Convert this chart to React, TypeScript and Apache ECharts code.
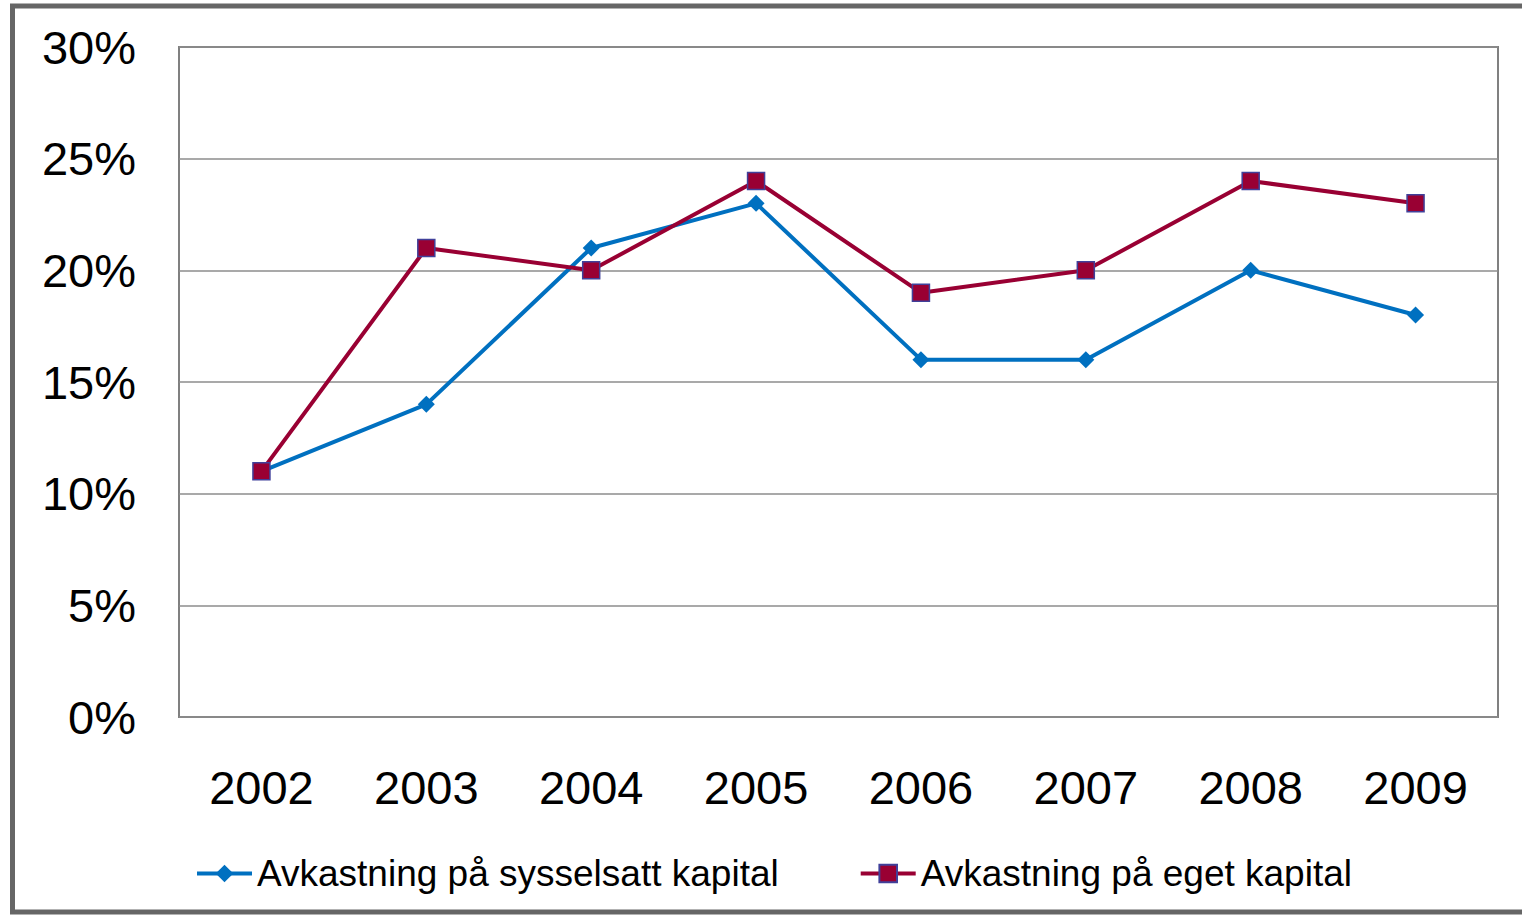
import React, { useEffect, useRef } from "react";
import * as echarts from "echarts";

const years = ["2002", "2003", "2004", "2005", "2006", "2007", "2008", "2009"];
const sysselsatt = [11, 14, 21, 23, 16, 16, 20, 18];
const eget = [11, 21, 20, 24, 19, 20, 24, 23];
const seriesNames = ["Avkastning på sysselsatt kapital", "Avkastning på eget kapital"];

const FONT = "'Liberation Sans', Arial, sans-serif";

export default function App() {
  const ref = useRef<HTMLDivElement>(null);
  useEffect(() => {
    const chart = echarts.init(ref.current!, null, { renderer: "svg" });
    chart.setOption({
      animation: false,
      backgroundColor: "#ffffff",
      graphic: [
        {
          type: "rect",
          shape: { x: 12.5, y: 6, width: 1530, height: 906 },
          style: { fill: "none", stroke: "#666666", lineWidth: 5 },
          silent: true,
        },
      ],
      grid: {
        left: 179,
        right: 24,
        top: 47,
        bottom: 198,
        show: true,
        borderColor: "#808080",
        borderWidth: 2,
        backgroundColor: "transparent",
      },
      legend: {
        left: 190,
        top: 850,
        itemWidth: 55,
        itemHeight: 22,
        itemGap: 80,
        lineStyle: { width: 4 },
        textStyle: { fontSize: 37, fontFamily: FONT, color: "#000" },
        data: seriesNames,
      },
      xAxis: {
        type: "category",
        data: years,
        boundaryGap: true,
        axisLine: { show: false },
        axisTick: { show: false },
        axisLabel: { fontSize: 47, fontFamily: FONT, color: "#000", margin: 47 },
      },
      yAxis: {
        type: "value",
        min: 0,
        max: 30,
        interval: 5,
        axisLine: { show: false },
        axisTick: { show: false },
        splitLine: { lineStyle: { color: "#8c8c8c", width: 1.5 } },
        axisLabel: {
          fontSize: 47,
          fontFamily: FONT,
          color: "#000",
          margin: 43,
          formatter: "{value}%",
        },
      },
      series: [
        {
          name: seriesNames[0],
          type: "line",
          data: sysselsatt,
          symbol: "diamond",
          symbolSize: 17,
          lineStyle: { color: "#0070C0", width: 4 },
          itemStyle: { color: "#0070C0" },
          z: 2,
        },
        {
          name: seriesNames[1],
          type: "line",
          data: eget,
          symbol: "rect",
          symbolSize: 17,
          lineStyle: { color: "#990033", width: 4 },
          itemStyle: { color: "#990033", borderColor: "#40409a", borderWidth: 1.5 },
          z: 3,
        },
      ],
    });
    return () => chart.dispose();
  }, []);
  return (
    <div
      ref={ref}
      style={{ position: "fixed", left: 0, top: 0, width: 1522, height: 915 }}
    />
  );
}
